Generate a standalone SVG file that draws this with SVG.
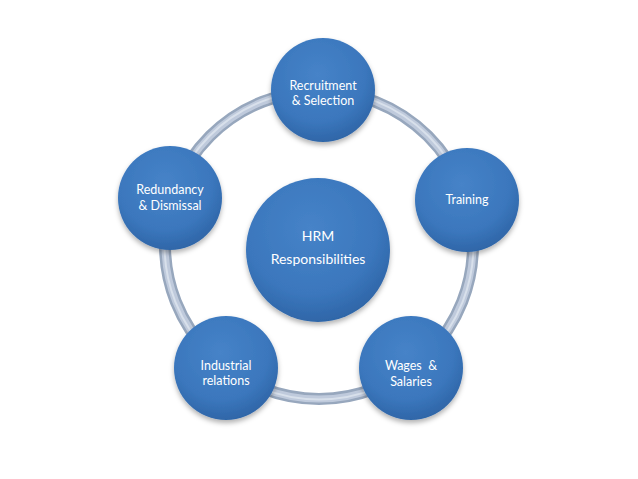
<svg xmlns="http://www.w3.org/2000/svg" width="638" height="479" viewBox="0 0 638 479">
<defs>
<radialGradient id="blue" cx="45%" cy="35%" r="65%">
<stop offset="0" stop-color="#4683c8"/>
<stop offset="0.7" stop-color="#3b77bd"/>
<stop offset="1" stop-color="#2f66a8"/>
</radialGradient>
<filter id="sh" x="-20%" y="-20%" width="140%" height="150%">
<feDropShadow dx="0" dy="3" stdDeviation="2.5" flood-color="#000" flood-opacity="0.3"/>
</filter>
</defs>
<style>
.node{fill:url(#blue);filter:url(#sh);}
.t{font-family:Lato,"Open Sans","Liberation Sans",sans-serif;font-size:12.5px;fill:#ffffff;text-anchor:middle;white-space:pre;}
.tc{font-family:Lato,"Open Sans","Liberation Sans",sans-serif;font-size:14px;fill:#ffffff;text-anchor:middle;}
</style>
<rect width="638" height="479" fill="#ffffff"/>
<g id="connectors">
<circle cx="319" cy="245" r="154" fill="none" stroke="#97a7bd" stroke-width="12"/>
<circle cx="319" cy="245" r="154" fill="none" stroke="#bfcadc" stroke-width="7"/>
<circle cx="319" cy="245" r="154.5" fill="none" stroke="#d8e0eb" stroke-width="2"/>
</g>
<g id="center">
<circle class="node" cx="318" cy="250" r="72"/>
<text class="tc" x="318" y="241">HRM</text>
<text class="tc" x="318" y="264">Responsibilities</text>
</g>
<g id="recruitment">
<circle class="node" cx="323" cy="90" r="52"/>
<text class="t" x="323" y="90">Recruitment</text>
<text class="t" x="323" y="105">&amp; Selection</text>
</g>
<g id="training">
<circle class="node" cx="467" cy="200" r="52"/>
<text class="t" x="467" y="204">Training</text>
</g>
<g id="wages">
<circle class="node" cx="411" cy="368" r="52"/>
<text class="t" x="411" y="370" xml:space="preserve">Wages  &amp;</text>
<text class="t" x="411" y="386">Salaries</text>
</g>
<g id="industrial">
<circle class="node" cx="226" cy="368" r="52"/>
<text class="t" x="226" y="370">Industrial</text>
<text class="t" x="226" y="385">relations</text>
</g>
<g id="redundancy">
<circle class="node" cx="170" cy="198" r="52"/>
<text class="t" x="170" y="194">Redundancy</text>
<text class="t" x="170" y="210">&amp; Dismissal</text>
</g>
</svg>
